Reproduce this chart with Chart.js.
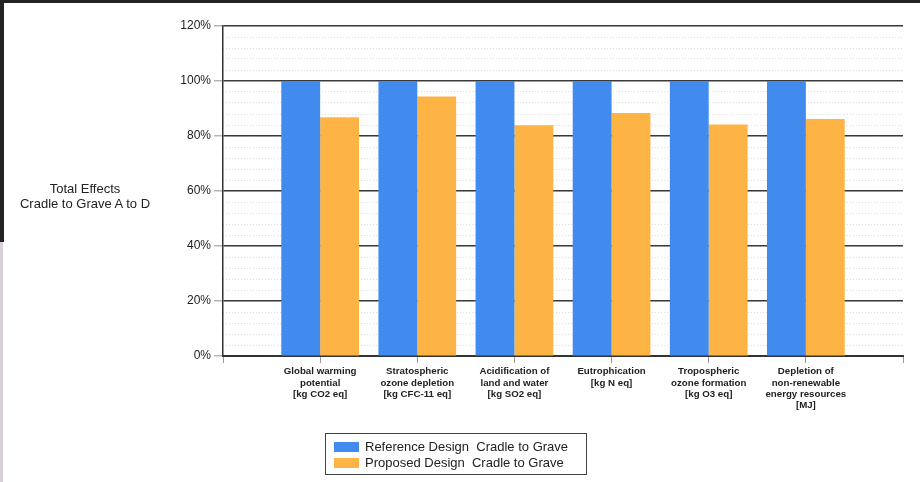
<!DOCTYPE html>
<html>
<head>
<meta charset="utf-8">
<script src="https://cdn.jsdelivr.net/npm/chart.js@4/dist/chart.umd.min.js"></script>
<style>
  html, body { margin: 0; padding: 0; background: #fff; }
  body { width: 920px; height: 482px; position: relative; overflow: hidden; font-family: "Liberation Sans", Arial, sans-serif; }
  #wrap { position: absolute; left: 0; top: 0; width: 920px; height: 482px; }
  #topbar { position: absolute; left: 0; top: 0; width: 920px; height: 3px; background: #232323; z-index: 5; }
  #leftbar1 { position: absolute; left: 0; top: 0; width: 4px; height: 242px; background: #232323; z-index: 5; }
  #leftbar2 { position: absolute; left: 0; top: 242px; width: 3px; height: 240px; background: #d6d0d8; z-index: 5; }
  #ytitle { position: absolute; left: 0; width: 170px; top: 182px; text-align: center; font-size: 13px; line-height: 14.5px; color: #222; }
  #legend { position: absolute; left: 325px; top: 433px; width: 262px; height: 42px; border: 1px solid #444; box-sizing: border-box; }
  .li { position: absolute; left: 8px; height: 14px; white-space: pre; font-size: 13px; line-height: 14px; color: #222; }
  .sw { display: inline-block; width: 25px; height: 10px; vertical-align: -1px; margin-right: 6px; }
</style>
</head>
<body>
<div id="wrap"><canvas id="c" width="920" height="482"></canvas></div>
<div id="topbar"></div><div id="leftbar1"></div><div id="leftbar2"></div>
<div id="ytitle">Total Effects<br>Cradle to Grave A to D</div>
<div id="legend"></div>
<script>
const categories = [
  ["Global warming", "potential", "[kg CO2 eq]"],
  ["Stratospheric", "ozone depletion", "[kg CFC-11 eq]"],
  ["Acidification of", "land and water", "[kg SO2 eq]"],
  ["Eutrophication", "[kg N eq]"],
  ["Tropospheric", "ozone formation", "[kg O3 eq]"],
  ["Depletion of", "non-renewable", "energy resources", "[MJ]"]
];
const referenceValues = [100, 100, 100, 100, 100, 100];
const proposedValues = [86.8, 94.4, 83.9, 88.4, 84.2, 86.2];
const seriesNames = ["Reference Design  Cradle to Grave", "Proposed Design  Cradle to Grave"];
const seriesColors = ["#418AEE", "#FDB444"];
const yMajorTicks = [0, 20, 40, 60, 80, 100, 120];

// pad with an empty slot on each side so groups sit on the tick marks
const labels = [""].concat(categories, [""]);
const pad = arr => [null].concat(arr, [null]);

const chart = new Chart(document.getElementById("c"), {
  type: "bar",
  data: {
    labels: labels,
    datasets: [
      { label: seriesNames[0], data: pad(referenceValues), backgroundColor: seriesColors[0], borderWidth: 0 },
      { label: seriesNames[1], data: pad(proposedValues), backgroundColor: seriesColors[1], borderWidth: 0 }
    ]
  },
  options: {
    responsive: false,
    animation: false,
    devicePixelRatio: 1,
    layout: { padding: { left: 0, right: 17, top: 26, bottom: 0 } },
    plugins: { legend: { display: false }, tooltip: { enabled: false } },
    datasets: { bar: { categoryPercentage: 0.8, barPercentage: 1.0 } },
    scales: {
      x: {
        type: "category",
        offset: false,
        grid: { offset: false, drawOnChartArea: false, drawTicks: true, tickLength: 7, tickColor: "#9a9a9a", tickWidth: 1 },
        border: { display: true, color: "#333", width: 2 },
        ticks: {
          autoSkip: false, maxRotation: 0, minRotation: 0, padding: 3,
          color: "#222",
          font: { family: "'Liberation Sans', Arial, sans-serif", size: 9.7, weight: "bold", lineHeight: 1.17 }
        },
        afterFit: s => { s.height = 126; }
      },
      yMinor: {
        position: "left",
        min: 0, max: 120,
        ticks: { display: false, stepSize: 4 },
        grid: { drawTicks: false, color: "#dcdcdc", lineWidth: 1 },
        border: { display: false, dash: [1, 2] },
        afterFit: s => { s.width = 0; }
      },
      y: {
        position: "left",
        min: 0, max: 120,
        afterBuildTicks: s => { s.ticks = yMajorTicks.map(v => ({ value: v })); },
        ticks: {
          padding: 3, color: "#222",
          font: { family: "'Liberation Sans', Arial, sans-serif", size: 12 },
          callback: v => v + "%"
        },
        grid: { color: ctx => (ctx.tick && ctx.tick.value === 0) ? "rgba(0,0,0,0)" : "#3a3a3a", lineWidth: 1.5, tickLength: 9, tickColor: "#b5b5b5", tickWidth: 1.5 },
        border: { display: true, color: "#333", width: 1.5 },
        afterFit: s => { s.width = 223; }
      }
    }
  }
});

// legend built from the datasets
const lg = document.getElementById("legend");
chart.data.datasets.forEach((ds, i) => {
  const d = document.createElement("div");
  d.className = "li";
  d.style.top = (6 + i * 16) + "px";
  const sw = document.createElement("span");
  sw.className = "sw";
  sw.style.background = ds.backgroundColor;
  d.appendChild(sw);
  d.appendChild(document.createTextNode(ds.label));
  lg.appendChild(d);
});
</script>
</body>
</html>
